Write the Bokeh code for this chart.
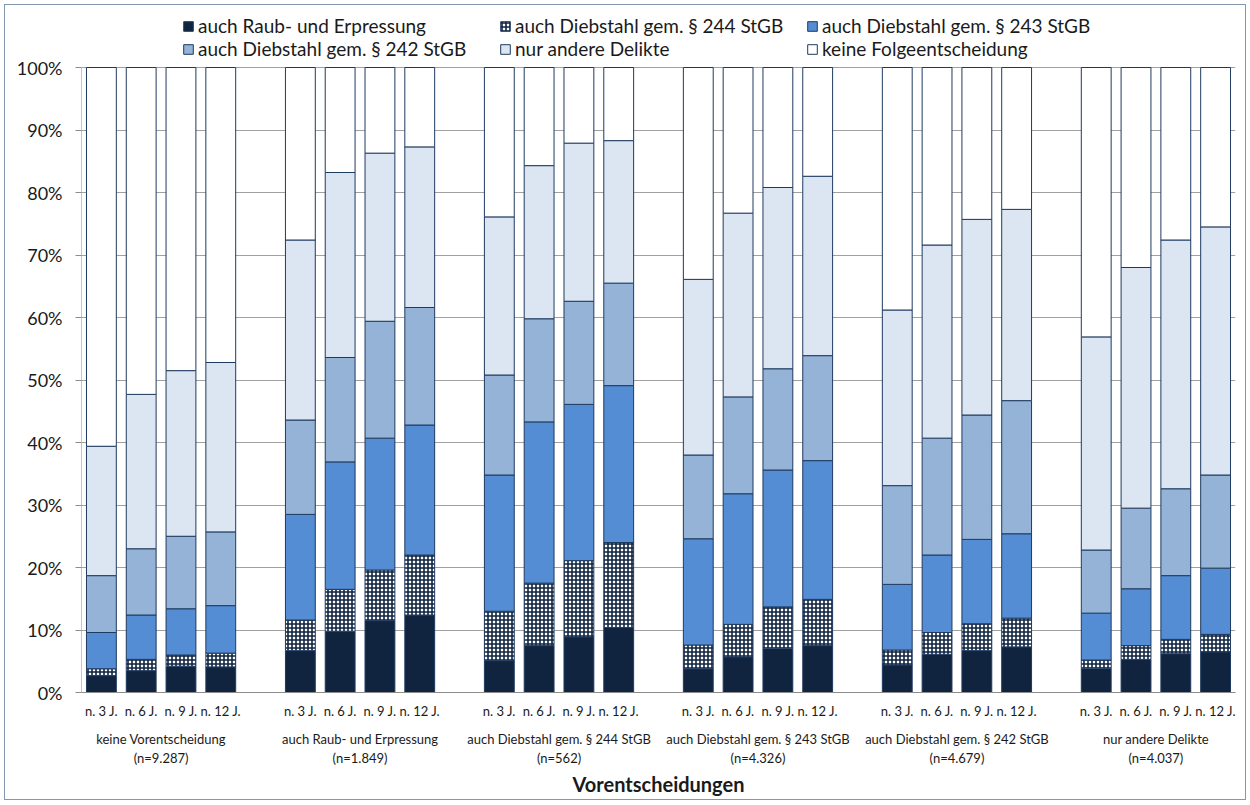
import numpy as np
from bokeh.plotting import figure
from bokeh.models import (ColumnDataSource, Range1d, FixedTicker, LinearAxis,
                          PrintfTickFormatter, Legend, LegendItem)
from bokeh.embed import file_html
from bokeh.resources import INLINE

# ---------------- data (percent shares per bar segment) ----------------
groups = ["keine Vorentscheidung\n(n=9.287)",
          "auch Raub- und Erpressung\n(n=1.849)",
          "auch Diebstahl gem. § 244 StGB\n(n=562)",
          "auch Diebstahl gem. § 243 StGB\n(n=4.326)",
          "auch Diebstahl gem. § 242 StGB\n(n=4.679)",
          "nur andere Delikte\n(n=4.037)"]
periods = ["n. 3 J.", "n. 6 J.", "n. 9 J.", "n. 12 J."]
series_names = ["auch Raub- und Erpressung", "auch Diebstahl gem. § 244 StGB",
                "auch Diebstahl gem. § 243 StGB", "auch Diebstahl gem. § 242 StGB",
                "nur andere Delikte", "keine Folgeentscheidung"]

raub = [2.7, 3.5, 4.2, 4.1, 6.7, 9.8, 11.5, 12.4, 5.1, 7.5, 8.9, 10.4,
        3.8, 5.7, 7.1, 7.5, 4.4, 6.1, 6.7, 7.3, 3.9, 5.3, 6.2, 6.5]
d244 = [1.1, 1.8, 1.8, 2.2, 4.9, 6.7, 8.1, 9.6, 7.9, 10.0, 12.2, 13.6,
        3.8, 5.2, 6.6, 7.4, 2.4, 3.5, 4.3, 4.6, 1.3, 2.2, 2.3, 2.8]
d243 = [5.8, 7.1, 7.4, 7.6, 16.9, 20.4, 21.1, 20.8, 21.8, 25.8, 25.0, 25.1,
        17.0, 20.9, 21.9, 22.2, 10.5, 12.4, 13.5, 13.5, 7.5, 9.1, 10.2, 10.6]
d242 = [9.1, 10.6, 11.6, 11.8, 15.1, 16.7, 18.7, 18.8, 16.0, 16.5, 16.5, 16.4,
        13.4, 15.5, 16.2, 16.8, 15.8, 18.7, 19.9, 21.3, 10.1, 12.9, 13.9, 14.9]
andere = [20.7, 24.7, 26.5, 27.1, 28.8, 29.6, 26.9, 25.7, 25.3, 24.5, 25.3, 22.8,
          28.1, 29.4, 29.0, 28.7, 28.1, 30.9, 31.3, 30.6, 34.1, 38.5, 39.8, 39.7]
keine = [60.6, 52.3, 48.5, 47.2, 27.6, 16.8, 13.7, 12.7, 23.9, 15.7, 12.1, 11.7,
         33.9, 23.3, 19.2, 17.4, 38.8, 28.4, 24.3, 22.7, 43.1, 32.0, 27.6, 25.5]

series_values = [raub, d244, d243, d242, andere, keine]

# ---------------- styling ----------------
FONT = "Lato"
TXT = "#1a1a1a"
fills = ["#10243F", "#FFFFFF", "#548DD4", "#95B3D7", "#DCE6F2", "#FFFFFF"]
OUTLINE = "#1F3A5F"
AXIS = "#8C8C8C"

slot = 5  # 4 bars + 1 empty slot per group
xs = [slot * g + k for g in range(len(groups)) for k in range(len(periods))]
x_lo, x_hi = -0.5, slot * len(groups) - 1 - 0.5

# frame extends above 100% so that the legend sits inside the frame area
FRAME_H = 680
y_top = 100 * FRAME_H / 625

p = figure(frame_width=1154, frame_height=FRAME_H,
           min_border_left=76, min_border_right=10,
           min_border_top=7, min_border_bottom=107,
           x_range=Range1d(x_lo, x_hi),
           y_range=Range1d(0, y_top),
           output_backend="svg", toolbar_location=None)
p.outline_line_color = None
p.background_fill_color = "white"
p.border_fill_color = "white"
p.styles = {"border": "1px solid #8497B0", "margin": "4px"}

# grid
yticks = list(range(0, 101, 10))
p.xgrid.grid_line_color = None
p.ygrid.grid_line_color = "#A0A0A0"
p.ygrid.grid_line_width = 1.2
p.ygrid.ticker = FixedTicker(ticks=yticks)

# y axis
yax = p.yaxis[0]
yax.ticker = FixedTicker(ticks=yticks)
yax.formatter = PrintfTickFormatter(format="%d%%")
yax.axis_line_color = None
yax.major_tick_line_color = AXIS
yax.major_tick_out = 6
yax.major_tick_in = 0
yax.minor_tick_line_color = None
yax.major_label_standoff = 13
yax.major_label_text_font = FONT
yax.major_label_text_font_size = "18px"
yax.major_label_text_color = TXT
# visible axis line only from 0% to 100%
p.segment(x0=[x_lo], y0=[yticks[0]], x1=[x_lo], y1=[yticks[-1]],
          line_color=AXIS, line_width=1)

# x axis (periods)
xax = p.xaxis[0]
xax.ticker = FixedTicker(ticks=xs)
xax.major_label_overrides = {x: periods[i % len(periods)] for i, x in enumerate(xs)}
xax.axis_line_color = AXIS
xax.major_tick_line_color = None
xax.major_tick_out = 0
xax.major_tick_in = 0
xax.minor_tick_line_color = None
xax.major_label_standoff = 10
xax.major_label_text_font = FONT
xax.major_label_text_font_size = "13px"
xax.major_label_text_color = TXT

# second x axis (groups)
gcent = [slot * g + (len(periods) - 1) / 2 for g in range(len(groups))]
gax = LinearAxis(ticker=FixedTicker(ticks=gcent),
                 major_label_overrides={c: groups[i] for i, c in enumerate(gcent)})
gax.axis_line_color = None
gax.major_tick_line_color = None
gax.major_tick_out = 0
gax.major_tick_in = 0
gax.minor_tick_line_color = None
gax.major_label_standoff = 9
gax.major_label_text_font = FONT
gax.major_label_text_font_size = "13px"
gax.major_label_text_color = TXT
gax.axis_label = "Vorentscheidungen"
gax.axis_label_text_font = FONT
gax.axis_label_text_font_style = "bold"
gax.axis_label_text_font_size = "20px"
gax.axis_label_text_color = TXT
gax.axis_label_standoff = 3
p.add_layout(gax, "below")

# bars
renderers = []
bottom = np.zeros(len(xs))
for i, vals in enumerate(series_values):
    top = bottom + np.array(vals)
    src = ColumnDataSource(dict(x=xs, bottom=bottom.copy(), top=top.copy()))
    kw = dict(fill_color=fills[i], line_color=OUTLINE, line_width=1)
    if i == 1:
        kw.update(hatch_pattern="cross", hatch_color="#10243F",
                  hatch_scale=4, hatch_weight=1.6)
    r = p.vbar(x="x", width=0.75, bottom="bottom", top="top", source=src, **kw)
    renderers.append(r)
    bottom = top

# legend: three columns of two rows, placed above the 100% line
col_x = [101, 418, 725]
for c in range(3):
    items = [LegendItem(label=series_names[c], renderers=[renderers[c]]),
             LegendItem(label=series_names[c + 3], renderers=[renderers[c + 3]])]
    lg = Legend(items=items, location=(col_x[c], 632), orientation="vertical",
                padding=0, margin=0, spacing=0, glyph_width=12, glyph_height=12,
                label_standoff=4, label_height=20,
                label_text_font=FONT, label_text_font_size="19px",
                label_text_color=TXT, background_fill_alpha=0,
                border_line_color=None)
    p.add_layout(lg, "center")

open("out.html", "w").write(file_html(p, INLINE))
